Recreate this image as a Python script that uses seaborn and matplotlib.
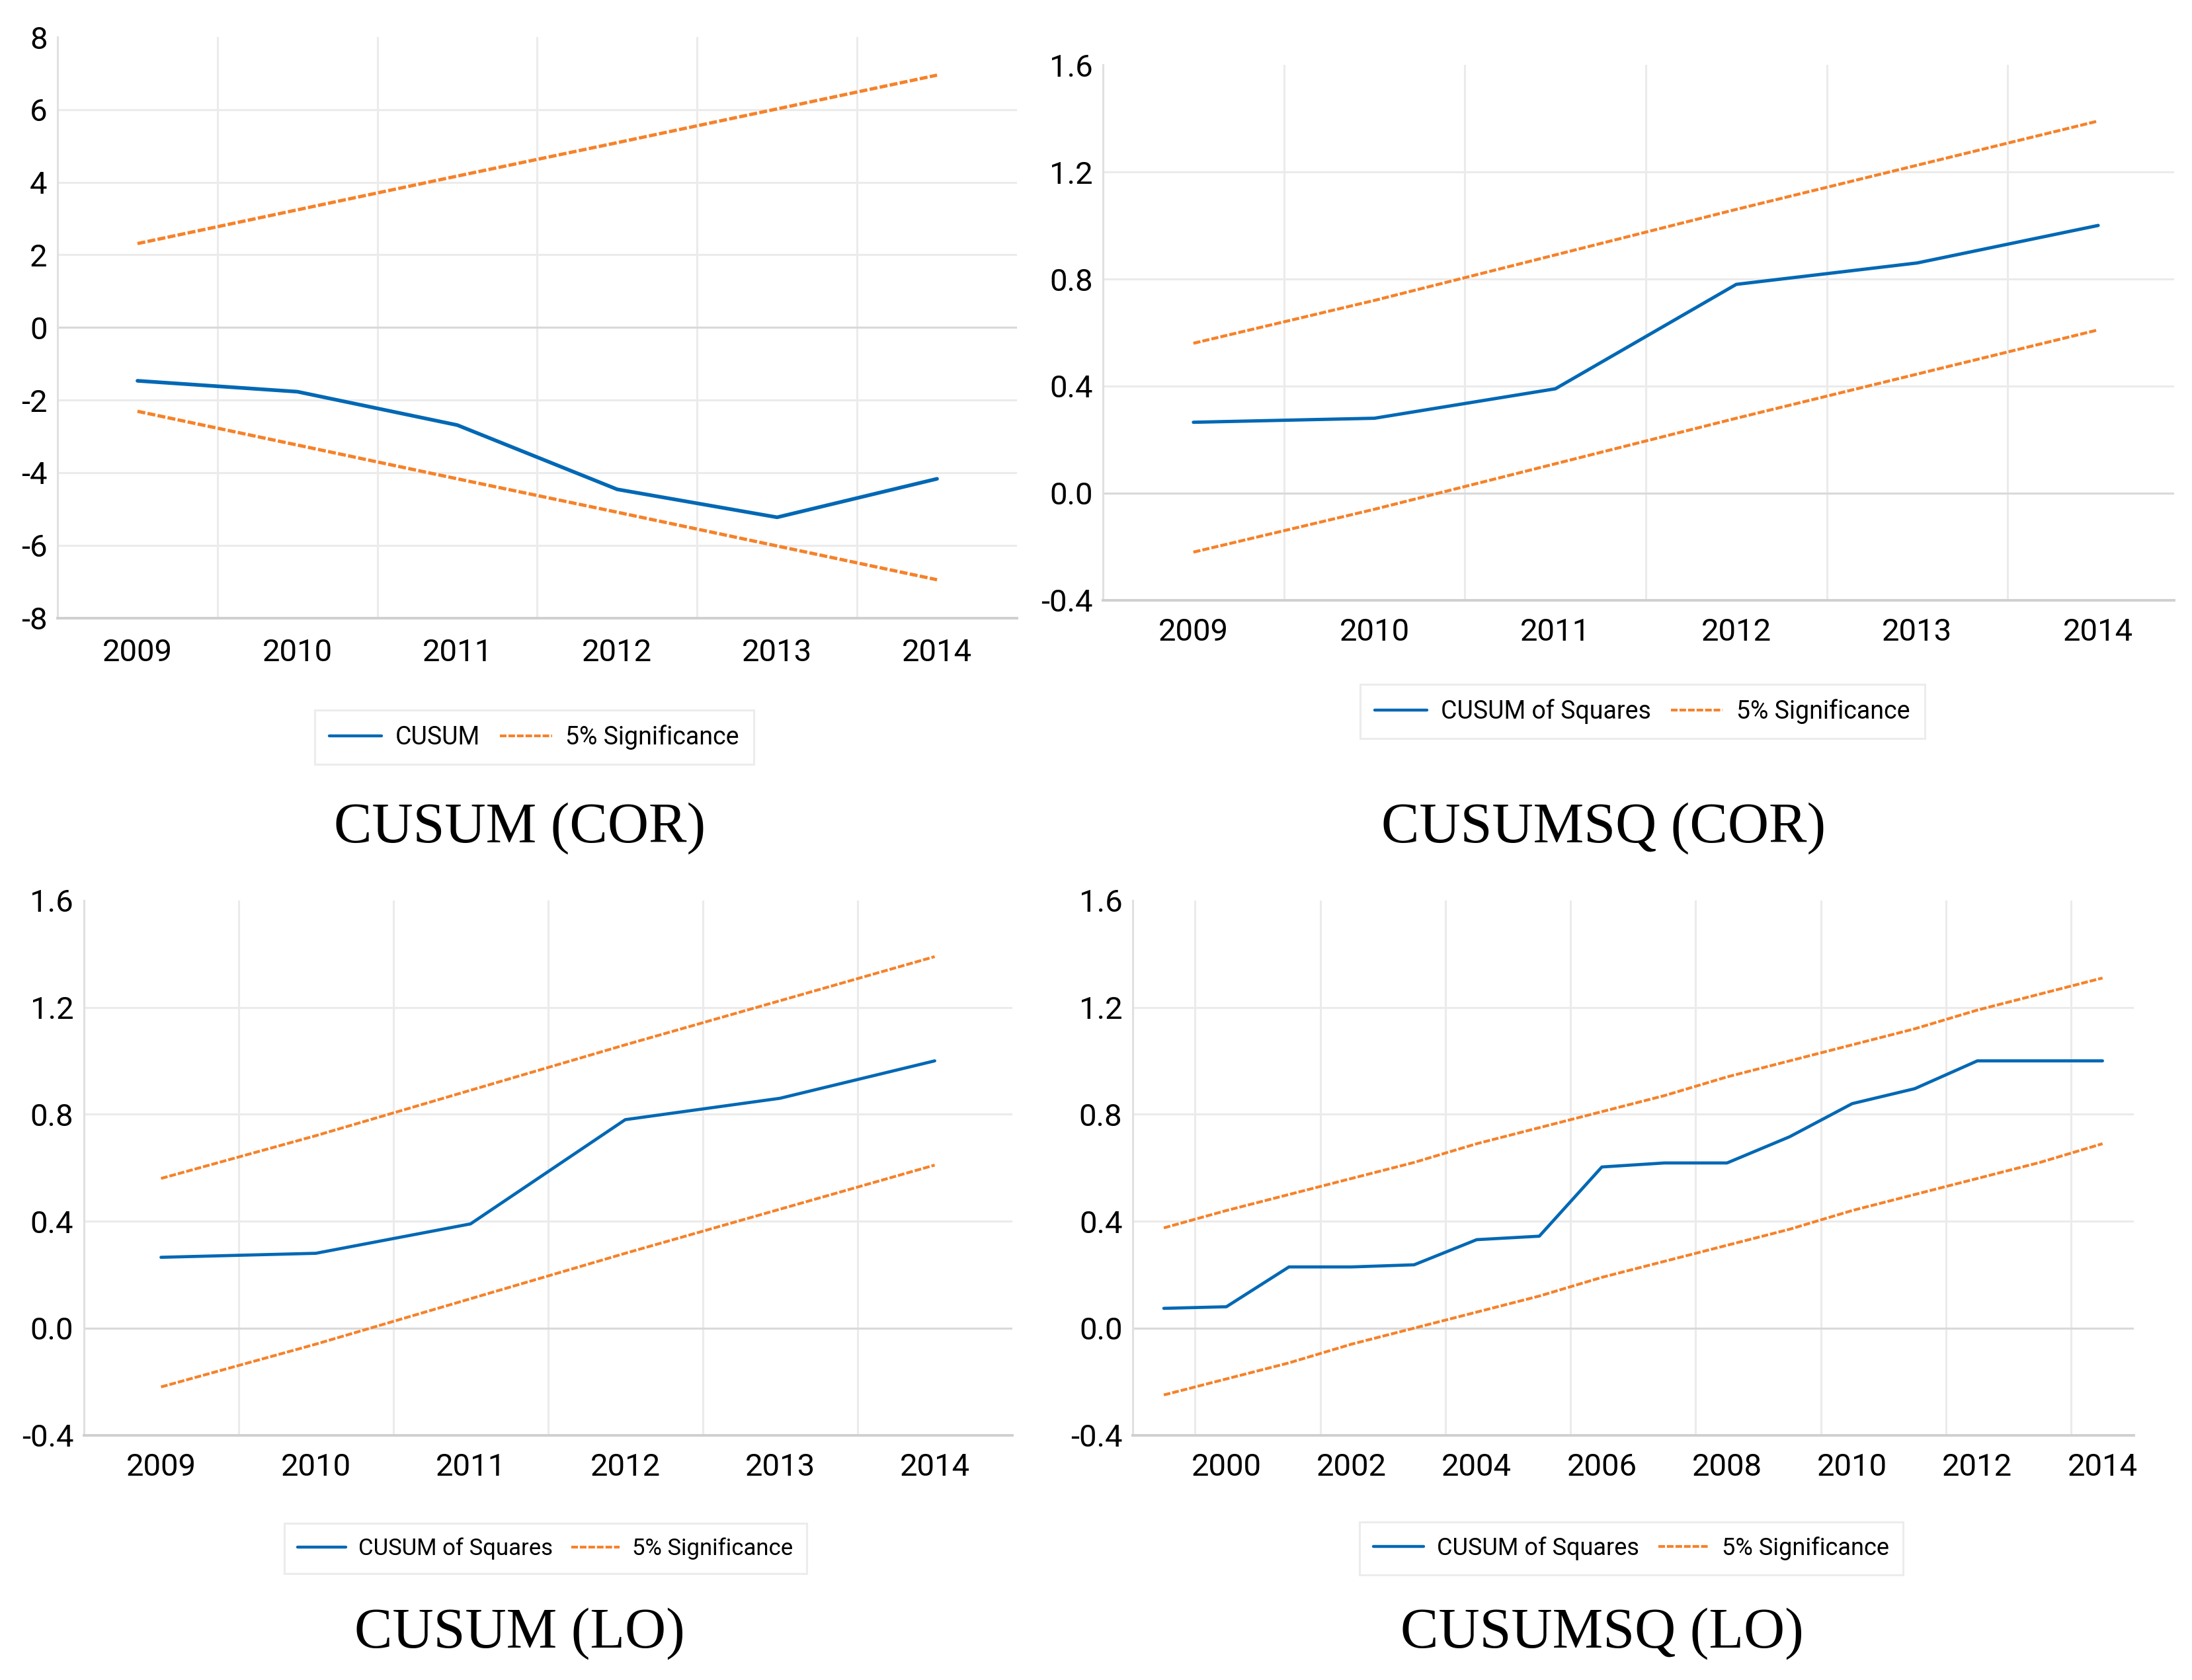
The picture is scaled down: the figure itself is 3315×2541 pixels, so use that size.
import matplotlib
matplotlib.use('Agg')
import matplotlib.pyplot as plt
import seaborn as sns
import pandas as pd
from matplotlib.lines import Line2D

# --- data ---
years_short = [2009, 2010, 2011, 2012, 2013, 2014]
years_long = list(range(1999, 2015))

cusum_cor = [-1.47, -1.77, -2.69, -4.46, -5.23, -4.17]
cusum_cor_upper = [2.31, 3.24, 4.17, 5.09, 6.02, 6.95]
cusum_cor_lower = [-2.31, -3.24, -4.17, -5.09, -6.02, -6.95]

cusumsq_cor = [0.265, 0.28, 0.39, 0.78, 0.86, 1.0]
cusumsq_cor_upper = [0.56, 0.72, 0.89, 1.06, 1.225, 1.39]
cusumsq_cor_lower = [-0.22, -0.06, 0.11, 0.28, 0.445, 0.61]

cusum_lo = [0.265, 0.28, 0.39, 0.78, 0.86, 1.0]
cusum_lo_upper = [0.56, 0.72, 0.89, 1.06, 1.225, 1.39]
cusum_lo_lower = [-0.22, -0.06, 0.11, 0.28, 0.445, 0.61]

cusumsq_lo = [0.074, 0.080, 0.229, 0.229, 0.237, 0.331, 0.344, 0.603,
              0.618, 0.618, 0.716, 0.840, 0.896, 1.0, 1.0, 1.0]
cusumsq_lo_upper = [0.375, 0.44, 0.50, 0.56, 0.62, 0.69, 0.75, 0.81,
                    0.87, 0.94, 1.00, 1.06, 1.12, 1.19, 1.25, 1.31]
cusumsq_lo_lower = [-0.25, -0.19, -0.13, -0.06, 0.00, 0.06, 0.12, 0.19,
                    0.25, 0.31, 0.37, 0.44, 0.50, 0.56, 0.62, 0.69]

titles = ['CUSUM (COR)', 'CUSUMSQ (COR)', 'CUSUM (LO)', 'CUSUMSQ (LO)']
series_names = ['CUSUM', 'CUSUM of Squares', 'CUSUM of Squares', 'CUSUM of Squares']
sig_name = '5% Significance'

BLUE = '#0068b4'
ORANGE = '#f5822a'
GRID = '#ebebeb'
TICKFONT = ['Roboto', 'DejaVu Sans']
SERIF = ['Liberation Serif', 'DejaVu Serif']

sns.set_style('white')
plt.rcParams['font.family'] = TICKFONT
plt.rcParams['text.color'] = 'black'

W, H = 3315, 2541
fig = plt.figure(figsize=(W / 100, H / 100), dpi=100)


def px_axes(x0, y0, x1, y1):
    return fig.add_axes([x0 / W, 1 - y1 / H, (x1 - x0) / W, (y1 - y0) / H])


def draw_panel(ax, years, main, upper, lower, label, ylim, yticks, xlim,
               xticks, grid_x, lw, ytfmt, xpad):
    df = pd.DataFrame({'year': years, 'main': main, 'upper': upper, 'lower': lower})
    # gridlines first
    for g in grid_x:
        ax.axvline(g, color=GRID, lw=2.2, zorder=0)
    for t in yticks[1:-1]:
        ax.axhline(t, color='#d9d9d9' if t == 0 else GRID, lw=2.2, zorder=0)
    dash = (0, (2.4, 0.7))
    sns.lineplot(data=df, x='year', y='upper', ax=ax, color=ORANGE, lw=lw * 0.9,
                 linestyle=dash, zorder=3)
    sns.lineplot(data=df, x='year', y='lower', ax=ax, color=ORANGE, lw=lw * 0.9,
                 linestyle=dash, zorder=3)
    sns.lineplot(data=df, x='year', y='main', ax=ax, color=BLUE, lw=lw, zorder=4)
    ax.set_xlim(*xlim)
    ax.set_ylim(*ylim)
    ax.set_yticks(yticks)
    ax.set_yticklabels([ytfmt.format(v) for v in yticks])
    ax.set_xticks(xticks)
    ax.set_xticklabels([str(v) for v in xticks])
    ax.set_xlabel('')
    ax.set_ylabel('')
    ax.tick_params(axis='both', length=0, labelsize=34, colors='black')
    ax.tick_params(axis='y', pad=11)
    ax.tick_params(axis='x', pad=xpad)
    for s in ['top', 'right']:
        ax.spines[s].set_visible(False)
    ax.spines['left'].set_color('#e0e0e0')
    ax.spines['left'].set_linewidth(2.2)
    ax.spines['bottom'].set_color('#cfcfcf')
    ax.spines['bottom'].set_linewidth(2.8)
    handles = [Line2D([], [], color=BLUE, lw=3.2),
               Line2D([], [], color=ORANGE, lw=3, linestyle=dash)]
    return handles, [label, sig_name]


axes = [px_axes(87, 56, 1538, 934.5),
        px_axes(1668, 98, 3288, 908),
        px_axes(126.5, 1362, 1530.6, 2170.5),
        px_axes(1712.7, 1362, 3227, 2170.5)]

panels = [
    (years_short, cusum_cor, cusum_cor_upper, cusum_cor_lower,
     (-8, 8), [-8, -6, -4, -2, 0, 2, 4, 6, 8], (2008.5, 2014.5),
     years_short, [2009.5, 2010.5, 2011.5, 2012.5, 2013.5], 4.0, '{:g}', 22),
    (years_short, cusumsq_cor, cusumsq_cor_upper, cusumsq_cor_lower,
     (-0.4, 1.6), [-0.4, 0.0, 0.4, 0.8, 1.2, 1.6], (2008.5, 2014.42),
     years_short, [2009.5, 2010.5, 2011.5, 2012.5, 2013.5], 3.6, '{:.1f}', 19),
    (years_short, cusum_lo, cusum_lo_upper, cusum_lo_lower,
     (-0.4, 1.6), [-0.4, 0.0, 0.4, 0.8, 1.2, 1.6], (2008.5, 2014.5),
     years_short, [2009.5, 2010.5, 2011.5, 2012.5, 2013.5], 3.4, '{:.1f}', 19),
    (years_long, cusumsq_lo, cusumsq_lo_upper, cusumsq_lo_lower,
     (-0.4, 1.6), [-0.4, 0.0, 0.4, 0.8, 1.2, 1.6], (1998.5, 2014.5),
     list(range(2000, 2015, 2)), [1999.5 + 2 * i for i in range(8)], 3.4, '{:.1f}', 19),
]

legend_pos = [(808, 1115), (2484, 1076), (825, 2342), (2467, 2342)]
legend_size = [27, 27, 25, 26]
title_pos = [(786, 1273), (2425, 1273), (786, 2491), (2423, 2491)]

for i, ax in enumerate(axes):
    (yrs, main, up, lo, ylim, yt, xlim, xt, gx, lw, fmt, xpad) = panels[i]
    h, l = draw_panel(ax, yrs, main, up, lo, series_names[i], ylim, yt, xlim,
                      xt, gx, lw, fmt, xpad)
    cx, cy = legend_pos[i]
    leg = ax.legend(h, l, loc='center', bbox_to_anchor=(cx / W, 1 - cy / H),
                    bbox_transform=fig.transFigure, ncol=2, frameon=True,
                    fancybox=False, fontsize=legend_size[i], handlelength=2.1,
                    handletextpad=0.55, columnspacing=0.8, borderpad=0.6,
                    labelcolor='black')
    leg.get_frame().set_edgecolor('#e8e8e8')
    leg.get_frame().set_linewidth(2.2)
    tx, ty = title_pos[i]
    fig.text(tx / W, 1 - ty / H, titles[i], ha='center', va='baseline',
             fontsize=62, family=SERIF, color='black')

fig.savefig('out.png', dpi=100)
